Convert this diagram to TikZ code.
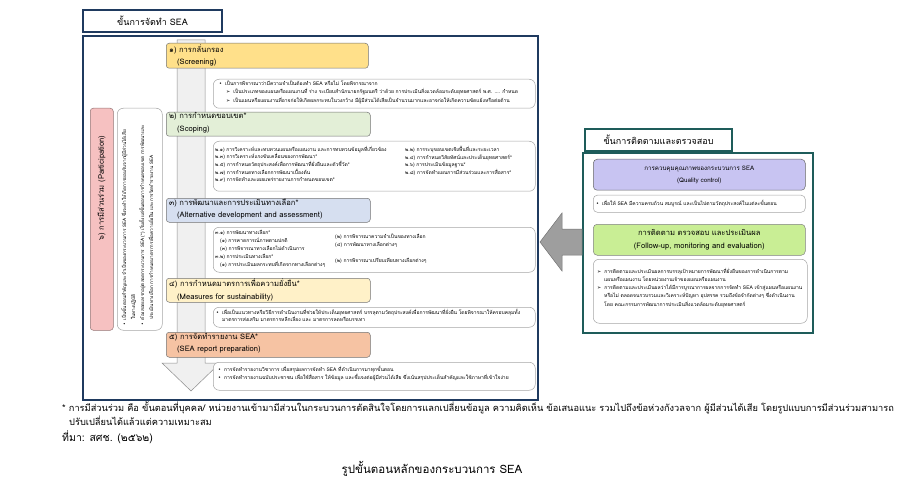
\documentclass[tikz,border=0pt]{standalone}
\usepackage{fontspec}
\setmainfont{Loma}[Script=Thai]
\newfontfamily\symfont{DejaVu Sans}
\usetikzlibrary{positioning}

\newcommand{\fsz}[2]{\fontsize{#1}{#2}\selectfont}
\newcommand{\bul}{{\symfont\char"2022}\hspace{3pt}}
\newcommand{\arr}{{\symfont\char"27A2}\hspace{3pt}}

\definecolor{navyfr}{HTML}{1F3A5F}
\definecolor{tealfr}{HTML}{1E5C5A}
\definecolor{scrfill}{HTML}{FFE08A}
\definecolor{scpfill}{HTML}{E3EFD7}
\definecolor{altfill}{HTML}{D6DFF0}
\definecolor{msrfill}{HTML}{FFF1C8}
\definecolor{rptfill}{HTML}{F6C3A3}
\definecolor{parfill}{HTML}{F6C1C1}
\definecolor{qcfill}{HTML}{C8C4F2}
\definecolor{fmefill}{HTML}{C9EE95}

\tikzset{
  headbox/.style={draw=#1, line width=1.4pt, fill=white, inner sep=0pt,
    font=\fsz{9}{12}},
  stagebox/.style={draw=black!55, line width=0.5pt, rounded corners=3pt,
    anchor=north west, inner sep=0pt},
  notebox/.style={draw=black!35, line width=0.5pt, fill=white, rounded corners=6pt,
    anchor=north west, inner sep=0pt},
  stagetxt/.style={anchor=north west, align=left, inner sep=0pt, font=\fsz{7.6}{12.5}},
  smalltxt/.style={anchor=north west, align=left, inner sep=0pt, font=\fsz{5}{#1}},
  smalltxt/.default=8.5
}

\begin{document}
\begin{tikzpicture}[x=1pt,y=-1pt]
\useasboundingbox (0,0) rectangle (900,500);

% left frame
\node[headbox=navyfr, minimum width=139pt, minimum height=22pt] (leftttl) at (152.5,21) {ขั้นการจัดทำ SEA};
\draw[navyfr, line width=1.4pt] (83,36) rectangle (538,400);

% big down arrow behind the stages
\draw[fill=black!6, draw=black!45, line width=0.5pt] (177,40) -- (205,40) -- (205,363) -- (220,363)
  -- (191,391) -- (162,363) -- (177,363) -- cycle;

% participation
\node[stagebox, fill=parfill, draw=parfill!60!black, minimum width=23pt, minimum height=222pt] (part) at (90,108) {};
\node[rotate=90, font=\fsz{7.6}{9}, inner sep=0pt] (parttxt) at (101.5,188) {๖) การมีส่วนร่วม (Participation)};
\node[notebox, minimum width=45pt, minimum height=222pt] (partnote) at (117,108) {};
\node[smalltxt=9, rotate=90, font=\fsz{4.7}{9}] (partlist) at (121,326) {\bul เป็นขั้นตอนสำคัญและจำเป็นของกระบวนการ SEA ซึ่งจะทำให้เกิดการยอมรับจากผู้มีส่วนได้เสีย\\
\hspace{6pt}ในทางปฏิบัติ\\
\bul ต้องสอดแทรกอยู่ตลอดกระบวนการ SEA (*) เริ่มตั้งแต่ขั้นตอนการกำหนดขอบเขต การพัฒนาและ\\
\hspace{6pt}ประเมินทางเลือก การกำหนดมาตรการเพื่อความยั่งยืน และการจัดทำรายงาน SEA};

% stage 1
\node[stagebox, fill=scrfill, minimum width=202pt, minimum height=25pt] (scr) at (166,43) {};
\node[stagetxt] (scrtxt) at (169,44) {๑) การกลั่นกรอง\\\hspace{8pt}(Screening)};
\node[notebox, minimum width=322pt, minimum height=29pt] (scrnote) at (213,79) {};
\node[smalltxt] (scrlist) at (219,80.5) {\bul เป็นการพิจารณาว่ามีความจำเป็นต้องทำ SEA หรือไม่ โดยพิจารณาจาก\\
\hspace{7pt}\arr เป็นประเภทของแผนหรือแผนงานที่ ร่าง ระเบียบสำนักนายกรัฐมนตรี ว่าด้วย การประเมินสิ่งแวดล้อมระดับยุทธศาสตร์ พ.ศ. .... กำหนด\\
\hspace{7pt}\arr เป็นแผนหรือแผนงานที่อาจก่อให้เกิดผลกระทบในวงกว้าง มีผู้มีส่วนได้เสียเป็นจำนวนมากและอาจก่อให้เกิดความขัดแย้งหรือต่อต้าน};

% stage 2
\node[stagebox, fill=scpfill, minimum width=204pt, minimum height=24pt] (scp) at (166,112) {};
\node[stagetxt] (scptxt) at (169,112.5) {๒) การกำหนดขอบเขต*\\\hspace{8pt}(Scoping)};
\node[notebox, minimum width=322pt, minimum height=50pt] (scpnote) at (213,141) {};
\node[smalltxt=7.6] (scpleft) at (215,146) {๒.๑) การวิเคราะห์และทบทวนแผนหรือแผนงาน และการทบทวนข้อมูลที่เกี่ยวข้อง\\
๒.๓) การวิเคราะห์แรงขับเคลื่อนของการพัฒนา*\\
๒.๕) การกำหนดวัตถุประสงค์เพื่อการพัฒนาที่ยั่งยืนและตัวชี้วัด*\\
๒.๗) การกำหนดทางเลือกการพัฒนาเบื้องต้น\\
๒.๙) การจัดทำและเผยแพร่รายงานการกำหนดขอบเขต*};
\node[smalltxt=7.6] (scpright) at (405,146) {๒.๒) การระบุขอบเขตเชิงพื้นที่และระยะเวลา\\
๒.๔) การกำหนดวิสัยทัศน์และประเด็นยุทธศาสตร์*\\
๒.๖) การประเมินข้อมูลฐาน*\\
๒.๘) การจัดทำแผนการมีส่วนร่วมและการสื่อสาร*};

% stage 3
\node[stagebox, fill=altfill, minimum width=204pt, minimum height=24pt] (alt) at (166,198) {};
\node[stagetxt] (alttxt) at (169,198.5) {๓) การพัฒนาและการประเมินทางเลือก*\\\hspace{8pt}(Alternative development and assessment)};
\node[notebox, minimum width=322pt, minimum height=45pt] (altnote) at (213,227) {};
\node[smalltxt=8] (altleft) at (215,230) {๓.๑) การพัฒนาทางเลือก*\\
\hspace{5pt}(๑) การคาดการณ์ภาพตามปกติ\\
\hspace{5pt}(๓) การพิจารณาทางเลือกไม่ดำเนินการ\\
๓.๒) การประเมินทางเลือก*\\
\hspace{5pt}(๑) การประเมินผลกระทบที่เกิดจากทางเลือกต่างๆ};
\node[smalltxt=8] (altright) at (335,230) {\mbox{}\\
(๒) การพิจารณาความจำเป็นของทางเลือก\\
(๔) การพัฒนาทางเลือกต่างๆ\\
\mbox{}\\
(๒) การพิจารณาเปรียบเทียบทางเลือกต่างๆ};

% stage 4
\node[stagebox, fill=msrfill, minimum width=204pt, minimum height=24pt] (msr) at (166,278) {};
\node[stagetxt] (msrtxt) at (169,278.5) {๔) การกำหนดมาตรการเพื่อความยั่งยืน*\\\hspace{8pt}(Measures for sustainability)};
\node[notebox, minimum width=322pt, minimum height=20pt] (msrnote) at (213,307) {};
\node[smalltxt=7] (msrlist) at (216,309.5) {\bul เพื่อเป็นแนวทางหรือวิธีการดำเนินงานที่ช่วยให้ประเด็นยุทธศาสตร์ บรรลุตามวัตถุประสงค์เพื่อการพัฒนาที่ยั่งยืน โดยพิจารณาให้ครอบคลุมทั้ง\\
\hspace{6pt}มาตรการส่งเสริม มาตรการหลีกเลี่ยง และ มาตรการลดหรือบรรเทา};

% stage 5
\node[stagebox, fill=rptfill, minimum width=204pt, minimum height=25pt] (rpt) at (166,332) {};
\node[stagetxt] (rpttxt) at (169,333) {๕) การจัดทำรายงาน SEA*\\\hspace{8pt}(SEA report preparation)};
\node[notebox, minimum width=322pt, minimum height=28pt] (rptnote) at (213,362) {};
\node[smalltxt=7.5] (rptlist) at (218,366.5) {\bul การจัดทำรายงานวิชาการ เพื่อสรุปผลการจัดทำ SEA ที่ดำเนินการมาทุกขั้นตอน\\
\bul การจัดทำรายงานฉบับประชาชน เพื่อใช้สื่อสาร ให้ข้อมูล และชี้แจงต่อผู้มีส่วนได้เสีย ซึ่งเน้นสรุปประเด็นสำคัญและใช้ภาษาที่เข้าใจง่าย};

% right frame
\node[headbox=tealfr, minimum width=147pt, minimum height=22pt] (rightttl) at (658.5,140) {ขั้นการติดตามและตรวจสอบ};
\draw[tealfr, line width=1.4pt] (583,153) rectangle (813,333);

\node[stagebox, fill=qcfill, draw=black!60, rounded corners=4pt, minimum width=212pt, minimum height=31pt] (qc) at (593,159) {};
\node[align=center, font=\fsz{6.2}{12.5}, inner sep=0pt] (qctxt) at (qc.center) {การควบคุมคุณภาพของกระบวนการ SEA\\(Quality control)};
\node[notebox, minimum width=212pt, minimum height=17pt, rounded corners=4pt] (qcnote) at (593,195) {};
\node[smalltxt, anchor=west] (qclist) at (596,203.5) {\bul เพื่อให้ SEA มีความครบถ้วน สมบูรณ์ และเป็นไปตามวัตถุประสงค์ในแต่ละขั้นตอน};

\node[stagebox, fill=fmefill, draw=black!50, rounded corners=4pt, minimum width=212pt, minimum height=31pt] (fme) at (593,224) {};
\node[align=center, font=\fsz{7.6}{12.5}, inner sep=0pt] (fmetxt) at (fme.center) {การติดตาม ตรวจสอบ และประเมินผล\\(Follow-up, monitoring and evaluation)};
\node[notebox, minimum width=214pt, minimum height=64pt] (fmenote) at (593,259) {};
\node[smalltxt=8.2] (fmelist) at (597,268) {\arr การติดตามและประเมินผลการบรรลุเป้าหมายการพัฒนาที่ยั่งยืนของการดำเนินการตาม\\
\hspace{7pt}แผนหรือแผนงาน โดยหน่วยงานเจ้าของแผนหรือแผนงาน\\
\arr การติดตามและประเมินผลว่าได้มีการบูรณาการผลจากการจัดทำ SEA เข้าสู่แผนหรือแผนงาน\\
\hspace{7pt}หรือไม่ ตลอดจนรวบรวมและวิเคราะห์ปัญหา อุปสรรค รวมถึงข้อจำกัดต่างๆ ซึ่งดำเนินงาน\\
\hspace{7pt}โดย คณะกรรมการพัฒนาการประเมินสิ่งแวดล้อมระดับยุทธศาสตร์};

% arrow from the follow-up side
\draw[fill=black!38, draw=black!55, line width=0.5pt] (540,242) -- (562,213) -- (562,229) -- (582,229)
  -- (582,255) -- (562,255) -- (562,271) -- cycle;

% notes below
\node[anchor=west, inner sep=0pt, font=\fsz{9.25}{10}] (fnote1) at (62,408) {* การมีส่วนร่วม คือ ขั้นตอนที่บุคคล/ หน่วยงานเข้ามามีส่วนในกระบวนการตัดสินใจโดยการแลกเปลี่ยนข้อมูล ความคิดเห็น ข้อเสนอแนะ รวมไปถึงข้อห่วงกังวลจาก ผู้มีส่วนได้เสีย โดยรูปแบบการมีส่วนร่วมสามารถ};
\node[anchor=west, inner sep=0pt, font=\fsz{9.25}{10}] (fnote2) at (69,421) {ปรับเปลี่ยนได้แล้วแต่ความเหมาะสม};
\node[anchor=west, inner sep=0pt, font=\fsz{10.5}{11}] (source) at (62,437) {ที่มา: สศช. (๒๕๖๒)};
\node[inner sep=0pt, font=\fsz{11.5}{12}] (caption) at (432,469) {รูปขั้นตอนหลักของกระบวนการ SEA};
\end{tikzpicture}
\end{document}
